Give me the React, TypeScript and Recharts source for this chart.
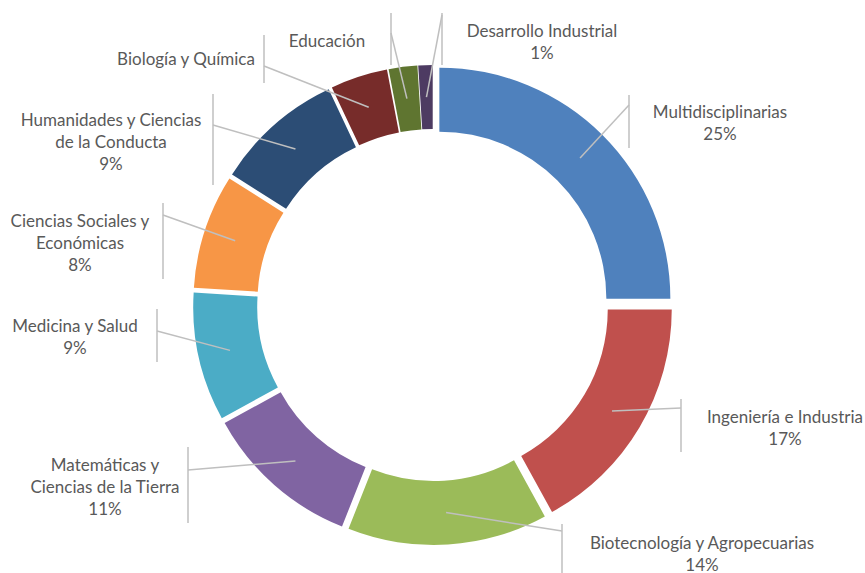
import { Cell, Pie, PieChart, Sector } from 'recharts';

const CATEGORIES = [
  'Multidisciplinarias',
  'Ingeniería e Industria',
  'Biotecnología y Agropecuarias',
  'Matemáticas y Ciencias de la Tierra',
  'Medicina y Salud',
  'Ciencias Sociales y Económicas',
  'Humanidades y Ciencias de la Conducta',
  'Biología y Química',
  'Educación',
  'Desarrollo Industrial',
];
const SHARES = [25, 17, 14, 11, 9, 8, 9, 4, 2, 1];

// how each label is broken into lines (as shown in the original)
const LABEL_LINES = [
  ['Multidisciplinarias'],
  ['Ingeniería e Industria'],
  ['Biotecnología y Agropecuarias'],
  ['Matemáticas y', 'Ciencias de la Tierra'],
  ['Medicina y Salud'],
  ['Ciencias Sociales y', 'Económicas'],
  ['Humanidades y Ciencias', 'de la Conducta'],
  ['Biología y Química'],
  ['Educación'],
  ['Desarrollo Industrial'],
];
const SHOW_PCT = [true, true, true, true, true, true, true, false, false, true];

const COLORS = [
  '#4F81BD', '#C0504D', '#9BBB59', '#8064A2', '#4BACC6',
  '#F79646', '#2C4D75', '#772C2A', '#5F7530', '#4D3B62',
];

// label placement: text centre x / first line y, leader bar x and span, attach y
const LABEL_LAYOUT = [
  { tx: 720, ty: 111, bx: 629, by1: 95, by2: 148, ly: 105 },
  { tx: 785, ty: 416, bx: 681, by1: 399, by2: 452, ly: 408 },
  { tx: 702, ty: 542, bx: 562, by1: 524, by2: 573, ly: 531 },
  { tx: 105, ty: 464, bx: 188, by1: 447, by2: 523, ly: 470 },
  { tx: 75, ty: 325, bx: 157, by1: 309, by2: 362, ly: 331 },
  { tx: 80, ty: 220, bx: 163, by1: 203, by2: 279, ly: 215 },
  { tx: 111, ty: 119, bx: 213, by1: 94, by2: 185, ly: 125 },
  { tx: 186, ty: 58, bx: 264, by1: 35, by2: 83, ly: 66 },
  { tx: 327, ty: 40, bx: 391, by1: 13, by2: 65, ly: 33 },
  { tx: 542, ty: 30, bx: 442, by1: 13, by2: 65, ly: 15 },
];

const EXPLODE = 9;
const RAD = Math.PI / 180;
const LINE_H = 22;

const data = CATEGORIES.map((name, i) => ({ name, value: SHARES[i] }));

const ExplodedSector = (p: any) => {
  const dx = EXPLODE * Math.cos(-p.midAngle * RAD);
  const dy = EXPLODE * Math.sin(-p.midAngle * RAD);
  return (
    <Sector
      cx={p.cx + dx}
      cy={p.cy + dy}
      innerRadius={p.innerRadius}
      outerRadius={p.outerRadius}
      startAngle={p.startAngle}
      endAngle={p.endAngle}
      fill={p.fill}
      stroke="none"
    />
  );
};

const renderLabel = (p: any) => {
  const i = p.index;
  const lay = LABEL_LAYOUT[i];
  const r = (p.innerRadius + p.outerRadius) / 2 + EXPLODE;
  const px = p.cx + r * Math.cos(-p.midAngle * RAD);
  const py = p.cy + r * Math.sin(-p.midAngle * RAD);
  const lines = SHOW_PCT[i]
    ? [...LABEL_LINES[i], `${Math.round(p.percent * 100)}%`]
    : LABEL_LINES[i];
  return (
    <g key={`lbl-${i}`}>
      <line x1={lay.bx} y1={lay.by1} x2={lay.bx} y2={lay.by2} stroke="#BFBFBF" strokeWidth={1.5} />
      <line x1={px} y1={py} x2={lay.bx} y2={lay.ly} stroke="#BFBFBF" strokeWidth={1.5} />
      <text
        textAnchor="middle"
        fill="#595959"
        fontSize={17}
        fontFamily="Lato, 'Open Sans', sans-serif"
      >
        {lines.map((t, k) => (
          <tspan key={k} x={lay.tx} y={lay.ty + k * LINE_H} dominantBaseline="central">
            {t}
          </tspan>
        ))}
      </text>
    </g>
  );
};

export default function App() {
  return (
    <div style={{ position: 'absolute', left: 0, top: 0, width: 865, height: 573, background: '#fff' }}>
      <PieChart width={865} height={573} margin={{ top: 0, right: 0, bottom: 0, left: 0 }}>
        <Pie
          data={data}
          dataKey="value"
          nameKey="name"
          cx={433}
          cy={305}
          innerRadius={167}
          outerRadius={231}
          startAngle={90}
          endAngle={-270}
          shape={ExplodedSector}
          label={renderLabel}
          labelLine={false}
          isAnimationActive={false}
        >
          {data.map((_, i) => (
            <Cell key={i} fill={COLORS[i]} />
          ))}
        </Pie>
      </PieChart>
    </div>
  );
}
